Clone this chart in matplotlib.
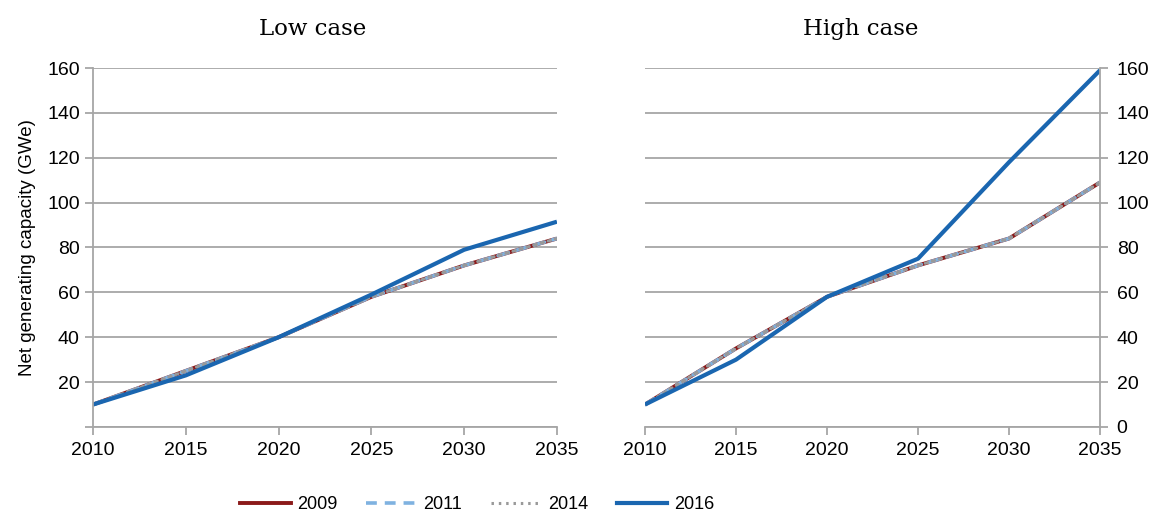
import matplotlib.pyplot as plt
from matplotlib.lines import Line2D

years = [2010, 2015, 2020, 2025, 2030, 2035]

# Low case projections (GWe)
low_2009 = [10, 25, 40, 58, 72, 84]
low_2011 = [10, 25, 40, 58, 72, 84]
low_2014 = [10, 25, 40, 58, 72, 84]
low_2016 = [10, 23, 40, 59, 79, 91.5]

# High case projections (GWe)
high_2009 = [10, 35, 58, 72, 84, 109]
high_2011 = [10, 35, 58, 72, 84, 109]
high_2014 = [10, 35, 58, 72, 84, 109]
high_2016 = [10, 30, 58, 75, 118, 159]

series_labels = ['2009', '2011', '2014', '2016']
panel_titles = ['Low case', 'High case']

styles = {
    '2009': dict(color='#8b1a1a', lw=2.8, ls='-'),
    '2011': dict(color='#7fb2e0', lw=2.6, ls=(0, (3, 2.2))),
    '2014': dict(color='#999999', lw=2.2, ls=(0, (0.8, 1.6))),
    '2016': dict(color='#1a66b0', lw=3.0, ls='-'),
}

plt.rcParams['font.family'] = ['Liberation Sans', 'DejaVu Sans']
grid_col = '#a6a6a6'

fig = plt.figure(figsize=(11.55, 5.14), dpi=100)
ax_low = fig.add_axes([0.0805, 0.1693, 0.4017, 0.6984])
ax_high = fig.add_axes([0.5584, 0.1693, 0.3940, 0.6984])

panels = [
    (ax_low, [low_2009, low_2011, low_2014, low_2016]),
    (ax_high, [high_2009, high_2011, high_2014, high_2016]),
]

for i, (ax, data) in enumerate(panels):
    for lab, vals in zip(series_labels, data):
        ax.plot(years, vals, solid_capstyle='butt', dash_capstyle='round', **styles[lab])
    ax.set_xlim(2010, 2035)
    ax.set_ylim(0, 160)
    ax.set_xticks(years)
    ax.set_yticks(range(0, 161, 20))
    ax.grid(axis='y', color=grid_col, lw=1.3)
    ax.set_axisbelow(True)
    for s in ax.spines.values():
        s.set_visible(False)
    ax.spines['bottom'].set_visible(True)
    ax.spines['bottom'].set_color(grid_col)
    ax.spines['bottom'].set_linewidth(1.3)
    ax.tick_params(axis='x', colors=grid_col, length=6, width=1.3, labelsize=14,
                   labelcolor='black', pad=5)
    ax.tick_params(axis='y', colors=grid_col, length=6, width=1.3, labelsize=14,
                   labelcolor='black')
    ax.set_title(panel_titles[i], fontsize=16.5, family='DejaVu Serif', pad=24, x=0.474)

ax_low.spines['left'].set_visible(True)
ax_low.spines['left'].set_color(grid_col)
ax_low.spines['left'].set_linewidth(1.3)
ax_low.set_yticklabels(['' if v == 0 else str(v) for v in range(0, 161, 20)])
ax_low.set_ylabel('Net generating capacity (GWe)', fontsize=13.5, labelpad=8)

ax_high.spines['right'].set_visible(True)
ax_high.spines['right'].set_color(grid_col)
ax_high.spines['right'].set_linewidth(1.3)
ax_high.yaxis.tick_right()
ax_high.tick_params(axis='y', pad=6)

handles = [Line2D([], [], **styles[lab]) for lab in series_labels]
fig.legend(handles, series_labels, loc='center left', ncol=4, frameon=False,
           fontsize=13, bbox_to_anchor=(0.208, 0.018), handlelength=2.8,
           columnspacing=1.6, handletextpad=0.35, borderaxespad=0, borderpad=0)

fig.savefig('out.png', dpi=100)
